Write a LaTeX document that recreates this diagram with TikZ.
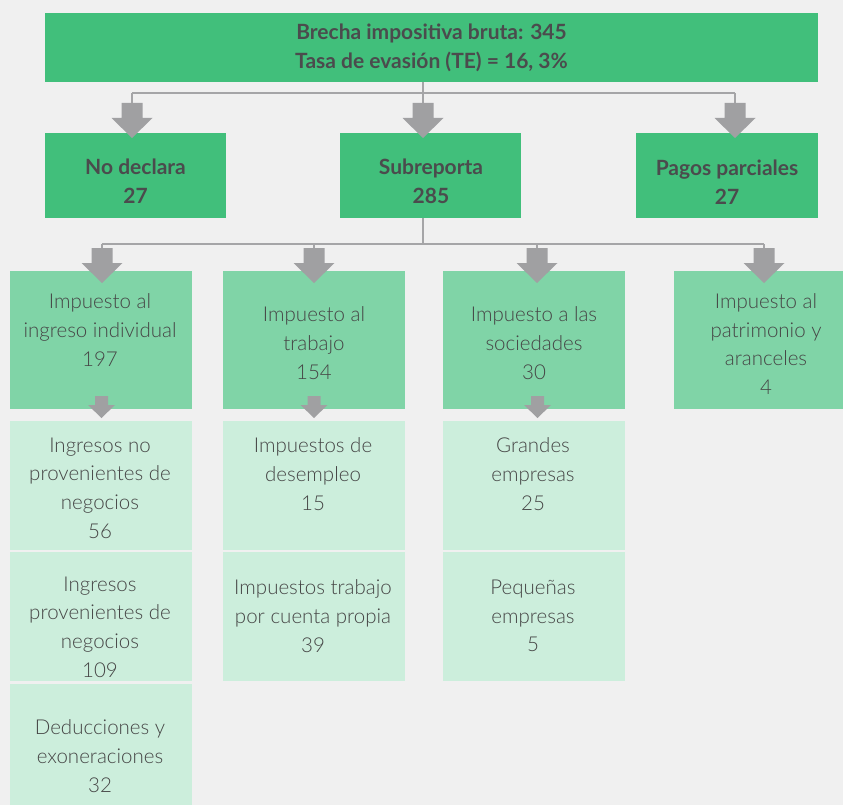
\documentclass[tikz,border=0pt]{standalone}
\usepackage{fontspec}
\setmainfont{Lato}
\newfontfamily\lightfont{Lato Light}
\usetikzlibrary{calc}

\definecolor{bg}{HTML}{F0F0F0}
\definecolor{dkgreen}{HTML}{41BF7B}
\definecolor{mdgreen}{HTML}{80D4A7}
\definecolor{ltgreen}{HTML}{CCEEDC}
\definecolor{arrowgray}{HTML}{A0A0A2}
\definecolor{linegray}{HTML}{A5A5A7}
\definecolor{txtdark}{HTML}{4B4B4D}
\definecolor{txtlight}{HTML}{464646}

\tikzset{
  box/.style={draw=none, inner sep=0pt, outer sep=0pt, anchor=north west},
  boxA/.style={box, fill=dkgreen},
  boxB/.style={box, fill=mdgreen},
  boxC/.style={box, fill=ltgreen},
  headtext/.style={align=center, inner sep=0pt, text=txtdark,
    font=\fontsize{21}{29}\selectfont\bfseries},
  bodytext/.style={align=center, inner sep=0pt, text=txtlight,
    font=\lightfont\fontsize{20.5}{28.7}\selectfont},
  conn/.style={draw=linegray, line width=2.5pt},
  bigarrow/.pic={\fill[arrowgray] (-10.5,-35) -- (10.5,-35) -- (10.5,-20)
    -- (20.5,-20) -- (0,0) -- (-20.5,-20) -- (-10.5,-20) -- cycle;},
  smallarrow/.pic={\fill[arrowgray] (-6.5,-22) -- (6.5,-22) -- (6.5,-13)
    -- (13.5,-13) -- (0,0) -- (-13.5,-13) -- (-6.5,-13) -- cycle;},
}

\begin{document}
\begin{tikzpicture}[x=1pt,y=-1pt]
\useasboundingbox (0,0) rectangle (843,805);
\fill[bg] (0,0) rectangle (843,805);
\clip (0,0) rectangle (843,805);

% level 1
\node[boxA, minimum width=773, minimum height=69] (top) at (45,13) {};
\node[headtext] (toptxt) at (431.5,47.5)
  {Brecha impositiva bruta: 345\\Tasa de evasión (TE) = 16, 3\%};

% level 2
\node[boxA, minimum width=181, minimum height=85] (nd) at (45,133) {};
\node[boxA, minimum width=181, minimum height=85] (sr) at (340,133) {};
\node[boxA, minimum width=182, minimum height=85] (pp) at (636,133) {};
\node[headtext] (ndtxt) at (135.5,181) {No declara\\27};
\node[headtext] (srtxt) at (431,181) {Subreporta\\285};
\node[headtext] (pptxt) at (727,182) {Pagos parciales\\27};

% level 3
\node[boxB, minimum width=182, minimum height=138] (ii) at (10,271) {};
\node[boxB, minimum width=182, minimum height=138] (it) at (223,271) {};
\node[boxB, minimum width=182, minimum height=138] (is) at (443,271) {};
\node[boxB, minimum width=182, minimum height=138] (ip) at (674,271) {};
\node[bodytext] (iitxt) at (100,330) {Impuesto al\\ingreso individual\\197};
\node[bodytext] (ittxt) at (314,343) {Impuesto al\\trabajo\\154};
\node[bodytext] (istxt) at (534,343) {Impuesto a las\\sociedades\\30};
\node[bodytext] (iptxt) at (766,344) {Impuesto al\\patrimonio y\\aranceles\\4};

% level 4
\node[boxC, minimum width=182, minimum height=129] (inp) at (10,421) {};
\node[boxC, minimum width=182, minimum height=129] (ip2) at (10,552) {};
\node[boxC, minimum width=182, minimum height=136] (de) at (10,684) {};
\node[boxC, minimum width=182, minimum height=129] (ud) at (223,421) {};
\node[boxC, minimum width=182, minimum height=129] (cp) at (223,552) {};
\node[boxC, minimum width=182, minimum height=129] (ge) at (443,421) {};
\node[boxC, minimum width=182, minimum height=129] (pe) at (443,552) {};
\node[bodytext] (inptxt) at (100,488) {Ingresos no\\provenientes de\\negocios\\56};
\node[bodytext] (ip2txt) at (100,627) {Ingresos\\provenientes de\\negocios\\109};
\node[bodytext] (detxt) at (100,756) {Deducciones y\\exoneraciones\\32};
\node[bodytext] (udtxt) at (313,474) {Impuestos de\\desempleo\\15};
\node[bodytext] (cptxt) at (313,616) {Impuestos trabajo\\por cuenta propia\\39};
\node[bodytext] (getxt) at (533,474) {Grandes\\empresas\\25};
\node[bodytext] (petxt) at (533,616) {Pequeñas\\empresas\\5};

% arrow tips and bus lines
\coordinate (bus1) at (0,93);
\coordinate (a1) at (132,138);
\coordinate (a2) at (423,138);
\coordinate (a3) at (735,138);
\coordinate (bus2) at (0,244);
\coordinate (b1) at (102,283);
\coordinate (b2) at (314,283);
\coordinate (b3) at (537,283);
\coordinate (b4) at (764,283);
\coordinate (c1) at (101.5,418);
\coordinate (c2) at (314,418);
\coordinate (c3) at (537.5,418);

% connectors from level 1 to level 2
\draw[conn] (top.south -| a2) -- (a2 |- sr.north);
\draw[conn] (a1 |- bus1) -- (a3 |- bus1);
\draw[conn] (a1 |- bus1) -- (a1 |- nd.north);
\draw[conn] (a3 |- bus1) -- (a3 |- pp.north);

% connectors from level 2 to level 3
\draw[conn] (sr.south -| a2) -- (a2 |- bus2);
\draw[conn] (b1 |- bus2) -- (b4 |- bus2);
\draw[conn] (b1 |- bus2) -- (b1 |- ii.north);
\draw[conn] (b2 |- bus2) -- (b2 |- it.north);
\draw[conn] (b3 |- bus2) -- (b3 |- is.north);
\draw[conn] (b4 |- bus2) -- (b4 |- ip.north);

% block arrows
\pic at (a1) {bigarrow};
\pic at (a2) {bigarrow};
\pic at (a3) {bigarrow};
\pic at (b1) {bigarrow};
\pic at (b2) {bigarrow};
\pic at (b3) {bigarrow};
\pic at (b4) {bigarrow};
\pic at (c1) {smallarrow};
\pic at (c2) {smallarrow};
\pic at (c3) {smallarrow};
\end{tikzpicture}
\end{document}
